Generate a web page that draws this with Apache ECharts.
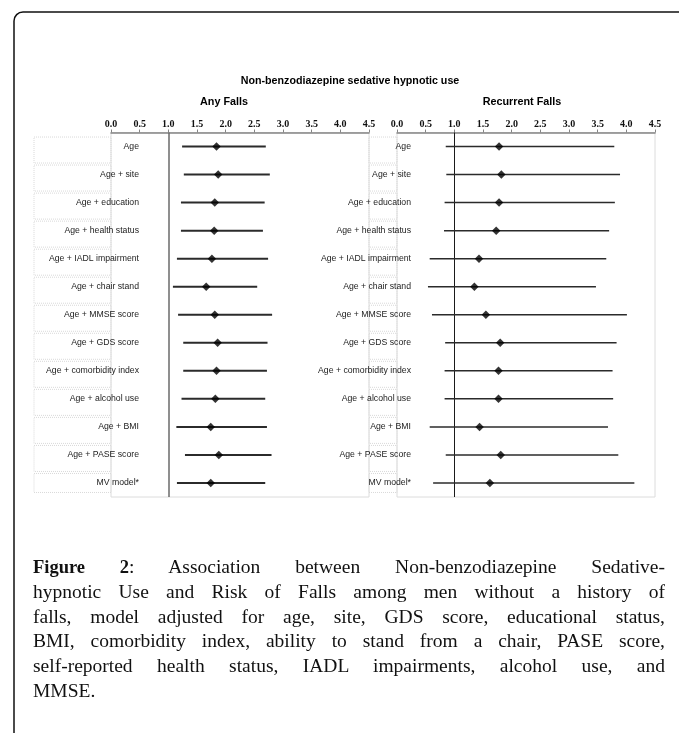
<!DOCTYPE html>
<html>
<head>
<meta charset="utf-8">
<script src="https://cdn.jsdelivr.net/npm/echarts@6/dist/echarts.min.js"></script>
<style>
  html, body { margin:0; padding:0; background:#fff; }
  #wrap { position:relative; width:679px; height:733px; overflow:hidden; }
  #chart { position:absolute; left:0; top:0; width:679px; height:733px; }
  #caption { position:absolute; left:33px; top:555px; width:632px;
    font-family:"Liberation Serif", "DejaVu Serif", serif; font-size:19.5px; line-height:24.8px; color:#111; }
  #caption b { font-size:18.5px; }
  #caption div { text-align:justify; text-align-last:justify; white-space:nowrap; }
  #caption div.last { text-align-last:left; }
</style>
</head>
<body>
<div id="wrap">
  <div id="chart"></div>
  <div id="caption">
    <div><b>Figure 2</b>: Association between Non-benzodiazepine Sedative-</div>
    <div>hypnotic Use and Risk of Falls among men without a history of</div>
    <div>falls, model adjusted for age, site, GDS score, educational status,</div>
    <div>BMI, comorbidity index, ability to stand from a chair, PASE score,</div>
    <div>self-reported health status, IADL impairments, alcohol use, and</div>
    <div class="last">MMSE.</div>
  </div>
</div>
<script>
const categories = ['Age', 'Age + site', 'Age + education', 'Age + health status', 'Age + IADL impairment',
  'Age + chair stand', 'Age + MMSE score', 'Age + GDS score', 'Age + comorbidity index',
  'Age + alcohol use', 'Age + BMI', 'Age + PASE score', 'MV model*'];

const anyFallsOR   = [1.84, 1.87, 1.81, 1.80, 1.76, 1.66, 1.81, 1.86, 1.84, 1.82, 1.74, 1.88, 1.74];
const anyFallsLow  = [1.24, 1.27, 1.22, 1.22, 1.15, 1.08, 1.17, 1.26, 1.26, 1.23, 1.14, 1.29, 1.15];
const anyFallsHigh = [2.70, 2.77, 2.68, 2.65, 2.74, 2.55, 2.81, 2.73, 2.72, 2.69, 2.72, 2.80, 2.69];

const recurOR   = [1.78, 1.82, 1.78, 1.73, 1.43, 1.35, 1.55, 1.80, 1.77, 1.77, 1.44, 1.81, 1.62];
const recurLow  = [0.85, 0.86, 0.83, 0.82, 0.57, 0.54, 0.61, 0.84, 0.83, 0.83, 0.57, 0.85, 0.63];
const recurHigh = [3.79, 3.89, 3.80, 3.70, 3.65, 3.47, 4.01, 3.83, 3.76, 3.77, 3.68, 3.86, 4.14];

const xMin = 0, xMax = 4.5, xInterval = 0.5;
const refValue = 1;

const mainTitle = 'Non-benzodiazepine sedative hypnotic use';
const panelTitles = ['Any Falls', 'Recurrent Falls'];

const chart = echarts.init(document.getElementById('chart'), null, { renderer: 'canvas' });

function xAxisCfg(idx) {
  return {
    type: 'value', gridIndex: idx, position: 'top', min: xMin, max: xMax, interval: xInterval,
    axisLine: { show: true, onZero: false, lineStyle: { color: '#858585', width: 1.5 } },
    axisTick: { show: true, length: 3, lineStyle: { color: '#858585', width: 1 } },
    splitLine: { show: false },
    axisLabel: { margin: 3, color: '#111', fontFamily: 'Liberation Serif', fontWeight: 'bold', fontSize: 10,
      formatter: v => v.toFixed(1) }
  };
}
function yAxisCfg(idx) {
  return { type: 'value', gridIndex: idx, inverse: true, min: -0.5, max: categories.length - 0.5, show: false };
}

function labelSeries(idx, boxW, textOff) {
  return {
    type: 'custom', xAxisIndex: idx, yAxisIndex: idx, clip: false, silent: true, z: 1,
    data: categories.map((c, i) => [0, i]),
    renderItem: (params, api) => {
      const i = params.dataIndex;
      const p = api.coord([xMin, api.value(1)]);
      const last = i === categories.length - 1;
      return {
        type: 'group',
        children: [
          { type: 'rect', shape: { x: p[0] - boxW, y: p[1] - 9.5, width: boxW, height: last ? 19 : 26 },
            style: { fill: 'none', stroke: '#d9d9d9', lineWidth: 1, lineDash: [1, 1] } },
          { type: 'text', style: { text: categories[i], x: p[0] + textOff, y: p[1], align: 'right', verticalAlign: 'middle',
            font: '8.7px "Liberation Sans"', fill: '#222' } }
        ]
      };
    }
  };
}

function ciSeries(idx, low, high, w) {
  return {
    type: 'custom', xAxisIndex: idx, yAxisIndex: idx, silent: true, z: 3,
    data: categories.map((c, i) => [i, low[i], high[i]]),
    encode: { x: [1, 2], y: 0 },
    renderItem: (params, api) => {
      const a = api.coord([api.value(1), api.value(0)]);
      const b = api.coord([api.value(2), api.value(0)]);
      return { type: 'line', shape: { x1: a[0], y1: a[1], x2: b[0], y2: b[1] },
        style: { stroke: '#2b2b2b', lineWidth: w } };
    }
  };
}

function pointSeries(idx, or, refColor, refWidth) {
  return {
    type: 'scatter', xAxisIndex: idx, yAxisIndex: idx, z: 4, silent: true,
    symbol: 'diamond', symbolSize: 8.5, itemStyle: { color: '#000' },
    data: categories.map((c, i) => [or[i], i]),
    markLine: {
      silent: true, symbol: ['none', 'none'], label: { show: false }, z: 2,
      lineStyle: { color: refColor, width: refWidth, type: 'solid' },
      data: [{ xAxis: refValue }]
    }
  };
}

const option = {
  animation: false,
  backgroundColor: '#fff',
  grid: [
    { left: 111, right: 310, top: 132.5, bottom: 236, show: true, backgroundColor: '#fff', borderColor: '#dcdcdc', borderWidth: 1 },
    { left: 397, right: 24, top: 132.5, bottom: 236, show: true, backgroundColor: '#fff', borderColor: '#dcdcdc', borderWidth: 1 }
  ],
  xAxis: [xAxisCfg(0), xAxisCfg(1)],
  yAxis: [yAxisCfg(0), yAxisCfg(1)],
  graphic: [
    { type: 'rect', shape: { x: 14, y: 12, width: 720, height: 760, r: 9 },
      style: { fill: 'none', stroke: '#111', lineWidth: 1.5 }, silent: true, z: -10 },
    { type: 'text', x: 350, y: 81, style: { text: mainTitle, align: 'center', verticalAlign: 'middle',
      font: 'bold 10.7px "Liberation Sans"', fill: '#000' } },
    { type: 'text', x: 224, y: 102, style: { text: panelTitles[0], align: 'center', verticalAlign: 'middle',
      font: 'bold 10.8px "Liberation Sans"', fill: '#000' } },
    { type: 'text', x: 522, y: 102, style: { text: panelTitles[1], align: 'center', verticalAlign: 'middle',
      font: 'bold 10.8px "Liberation Sans"', fill: '#000' } }
  ],
  series: [
    labelSeries(0, 77, 28),
    ciSeries(0, anyFallsLow, anyFallsHigh, 2),
    pointSeries(0, anyFallsOR, '#6a6a6a', 1.5),
    labelSeries(1, 28, 14),
    ciSeries(1, recurLow, recurHigh, 1.5),
    pointSeries(1, recurOR, '#1a1a1a', 1)
  ]
};
chart.setOption(option);
</script>
</body>
</html>
